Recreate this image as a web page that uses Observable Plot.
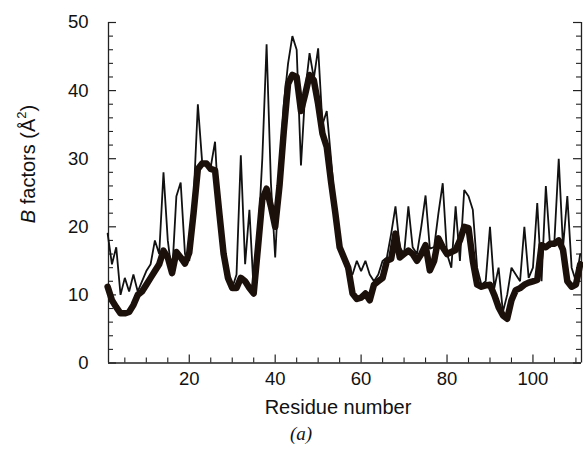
<!DOCTYPE html>
<html>
<head>
<meta charset="utf-8">
<script src="https://cdn.jsdelivr.net/npm/d3@7"></script>
<script src="https://cdn.jsdelivr.net/npm/@observablehq/plot@0.6"></script>
<style>
  html, body { margin: 0; padding: 0; background: #fff; }
  #chart { width: 583px; height: 454px; }
</style>
</head>
<body>
<div id="chart"></div>
<script>
// Residue numbers 1..111
const residues = [1,2,3,4,5,6,7,8,9,10,11,12,13,14,15,16,17,18,19,20,21,22,23,24,25,26,27,28,29,30,31,32,33,34,35,36,37,38,39,40,41,42,43,44,45,46,47,48,49,50,51,52,53,54,55,56,57,58,59,60,61,62,63,64,65,66,67,68,69,70,71,72,73,74,75,76,77,78,79,80,81,82,83,84,85,86,87,88,89,90,91,92,93,94,95,96,97,98,99,100,101,102,103,104,105,106,107,108,109,110,111];

// thin line: per-residue B factors
const bResidue = [19,14.5,17,10,12.5,10.5,13,10.5,12,13.5,14.5,18,16,28,18,13,24.5,26.5,16,15,
  24,38,29.5,29,28.8,32.5,21,16,13,11,13,30.5,14.5,22.5,10.5,18,30,46.8,26.5,15.5,
  28,38,44,48,46,29,40,45.5,41.8,46.2,35,37,30,22.5,18,15,13,13,15,13.5,
  15,13,12,13,15,15.5,19,23,17,16,23,17,16,20,24.6,16.8,17,22,26.4,16,
  14,23,15,25.4,24.5,22.5,14,11.5,12,20,11,14,7.5,10,14,13,12,20,12.5,14,
  23.5,12,26,17,18,30,17,24.5,14,12,16];

// thick line: averaged B factors
const bAverage = [11.2,9.2,8.2,7.3,7.3,7.5,8.5,10,10.5,11.5,12.5,13.5,14.5,16.5,15.5,13.2,16.3,15.5,14.6,16.2,
  22,28.5,29.3,29.3,28.5,28.3,22,16,12.5,11,11,12.5,12,11,10.2,17,24,25.6,23,20,
  26,34,41,42.3,42,37,39.5,42.3,41.5,38,33.7,31.7,26.6,22,17,15.5,14,10.2,9.4,9.6,
  10.2,9.2,11.5,12,12.5,15,15.3,19,15.5,16,16.5,16,15,16,17.3,13.6,15,18.3,17,16,
  16.3,16.6,18,20,19.8,15,11.5,11.2,11.4,11.5,10,8.2,7,6.5,9.2,10.7,11,11.5,11.8,12,
  12.2,17.3,17,17.5,17.5,18,16.6,12,11.2,11.5,14.5];

const xMajorTicks = [20, 40, 60, 80, 100];
const xMinorTicks = [5, 10, 15, 25, 30, 35, 45, 50, 55, 65, 70, 75, 85, 90, 95, 105, 110];
const yMajorTicks = [0, 10, 20, 30, 40, 50];
const yMinorTicks = [2,4,6,8,12,14,16,18,22,24,26,28,32,34,36,38,42,44,46,48];
const xDomain = [1.2, 111.3];
const yDomain = [0, 50];

const W = 583, H = 454;
const mL = 108, mR = 2, mT = 22, mB = 91.5;
const fw = W - mL - mR, fh = H - mT - mB;

const rows = residues.map((r, i) => ({r, thin: bResidue[i], avg: bAverage[i]}));
const font = "'Liberation Sans', Arial, Helvetica, sans-serif";

const chart = Plot.plot({
  width: W, height: H,
  marginLeft: mL, marginRight: mR, marginTop: mT, marginBottom: mB,
  style: {fontFamily: font, background: "#fff", color: "#111"},
  x: {domain: xDomain, axis: null},
  y: {domain: yDomain, axis: null},
  marks: [
    // axis lines
    Plot.ruleX([xDomain[0]], {stroke: "#222", strokeWidth: 1.3}),
    Plot.ruleX([xDomain[1]], {stroke: "#222", strokeWidth: 1.3}),
    Plot.tickY([0], {y: d => d, stroke: "#222", strokeWidth: 1.3}),
    // inward ticks, left
    Plot.tickY(yMajorTicks, {y: d => d, insetRight: fw - 8, stroke: "#222", strokeWidth: 1.2}),
    Plot.tickY(yMinorTicks, {y: d => d, insetRight: fw - 5, stroke: "#222", strokeWidth: 1.1}),
    // inward ticks, right
    Plot.tickY(yMajorTicks, {y: d => d, insetLeft: fw - 8, stroke: "#222", strokeWidth: 1.2}),
    Plot.tickY(yMinorTicks, {y: d => d, insetLeft: fw - 5, stroke: "#222", strokeWidth: 1.1}),
    // inward ticks, bottom
    Plot.tickX(xMajorTicks, {x: d => d, insetTop: fh - 8, stroke: "#222", strokeWidth: 1.2}),
    Plot.tickX(xMinorTicks, {x: d => d, insetTop: fh - 5, stroke: "#222", strokeWidth: 1.1}),
    // tick labels
    Plot.axisX({ticks: xMajorTicks, tickSize: 0, tickPadding: 9, fontSize: 18.5, label: null, tickFormat: d => String(d)}),
    Plot.axisY({ticks: yMajorTicks, tickSize: 0, tickPadding: 20, fontSize: 18.5, label: null, tickFormat: d => String(d)}),
    // data lines
    Plot.line(rows, {x: "r", y: "thin", stroke: "#111", strokeWidth: 1.8, strokeLinejoin: "miter"}),
    Plot.line(rows, {x: "r", y: "avg", stroke: "#1c100b", strokeWidth: 6.5, strokeLinejoin: "round"}),
    // x title and panel caption
    Plot.text(["Residue number"], {text: d => d, frameAnchor: "bottom", dx: -7, dy: 50.5, fontSize: 20, fill: "#111"}),
    Plot.text(["(a)"], {text: d => d, frameAnchor: "bottom", dx: -44, dy: 76.5, fontSize: 19, fontStyle: "italic", fontFamily: "'Liberation Serif', 'Times New Roman', serif", fill: "#111"})
  ]
});

// y-axis title with italic B and superscript 2
const svg = d3.select(chart);
const t = svg.append("text")
  .attr("transform", "translate(30,164) rotate(-90)")
  .attr("text-anchor", "middle")
  .attr("dominant-baseline", "middle")
  .attr("font-family", font)
  .attr("font-size", 20)
  .attr("fill", "#111");
t.append("tspan").attr("font-style", "italic").text("B");
t.append("tspan").text(" factors (Å");
t.append("tspan").attr("font-size", 13).attr("dy", -7).text("2");
t.append("tspan").attr("dy", 7).text(")");

document.getElementById("chart").appendChild(chart);
</script>
</body>
</html>
